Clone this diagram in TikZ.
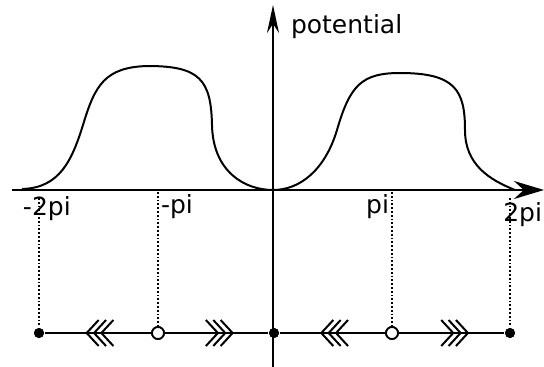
\documentclass[tikz,border=0pt]{standalone}
\usepackage{fontspec}
\setmainfont{DejaVu Sans}
\usetikzlibrary{arrows.meta,decorations.markings}
\begin{document}
\begin{tikzpicture}[x=1pt,y=-1pt,line width=2pt,
  lbl/.style={font=\fontsize{25}{29}\selectfont,inner sep=0pt},
  fdot/.style={circle,fill=black,inner sep=0pt,minimum size=10pt},
  odot/.style={circle,draw=black,fill=white,line width=1.8pt,inner sep=0pt,minimum size=12pt},
  guide/.style={line width=1.8pt,dotted},
  chevtip/.tip={Straight Barb[length=12pt,width=26pt,line width=2pt,sep=-7pt]Straight Barb[length=12pt,width=26pt,line width=2pt,sep=-7pt]Straight Barb[length=12pt,width=26pt,line width=2pt]},
  rightmid/.style={postaction={decorate},decoration={markings,mark=at position 0.67 with {\arrow{chevtip}}}},
  leftmid/.style={postaction={decorate},decoration={markings,mark=at position 0.38 with {\arrowreversed{chevtip}}}}
]
\useasboundingbox (0,0) rectangle (544,367);
% axes
\coordinate (xs) at (12,190);
\coordinate (xe) at (544,190);
\coordinate (ys) at (273,367);
\coordinate (ye) at (273,5);
\draw[-{Stealth[length=30pt,width=18pt]}] (xs) -- (xe);
\draw[-{Stealth[length=28pt,width=12pt]}] (ys) -- (ye);
% curve
\draw (22,189) .. controls (60,188) and (72,160) .. (83,125)
  .. controls (95,85) and (105,67) .. (148,66)
  .. controls (200,66) and (211,80) .. (212,125)
  .. controls (213,172) and (245,190) .. (273,190)
  .. controls (300,190) and (325,170) .. (337,130)
  .. controls (350,85) and (362,73) .. (400,73)
  .. controls (455,73) and (465,90) .. (465,130)
  .. controls (465,165) and (490,180) .. (515,190);
% labels
\node[lbl,anchor=north west] (l1) at (22,196) {-2pi};
\node[lbl,anchor=north west] (l2) at (160,194) {-pi};
\node[lbl,anchor=north east] (l3) at (390,194) {pi};
\node[lbl,anchor=north east] (l4) at (543,202) {2pi};
\node[lbl,anchor=west] (lp) at (290,27) {potential};
% guide tops
\coordinate (g1) at (39,198);
\coordinate (g2) at (158,192);
\coordinate (g3) at (392,192);
\coordinate (g4) at (510,198);
% phase line nodes
\node[fdot] (p1) at (39,333) {};
\node[odot] (p2) at (158,333) {};
\node[fdot] (p3) at (274,333) {};
\node[odot] (p4) at (392,333) {};
\node[fdot] (p5) at (510,333) {};
\draw[guide] (g1) -- (p1);
\draw[guide] (g2) -- (p2);
\draw[guide] (g3) -- (p4);
\draw[guide] (g4) -- (p5);
\draw[leftmid] (p1) -- (p2);
\draw[rightmid] (p2) -- (p3);
\draw[leftmid] (p3) -- (p4);
\draw[rightmid] (p4) -- (p5);
\node[fdot] at (p1) {};
\node[odot] at (p2) {};
\node[fdot] at (p3) {};
\node[odot] at (p4) {};
\node[fdot] at (p5) {};
\end{tikzpicture}
\end{document}
